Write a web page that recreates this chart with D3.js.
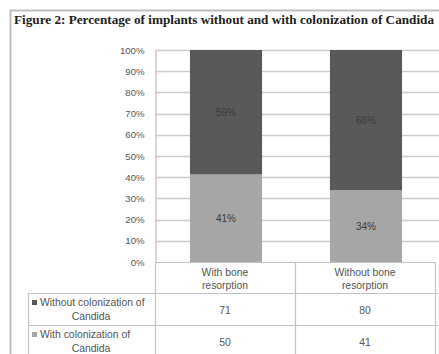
<!DOCTYPE html>
<html><head><meta charset="utf-8">
<script src="https://cdn.jsdelivr.net/npm/d3@7"></script>
<style>
html,body{margin:0;padding:0;background:#fff;overflow:hidden;}
svg{display:block;}
</style></head>
<body>
<svg id="c" width="439" height="354"></svg>
<script>
const title = "Figure 2: Percentage of implants without and with colonization of Candida";
const categories = ["With bone resorption", "Without bone resorption"];
const categoryLines = [["With bone", "resorption"], ["Without bone", "resorption"]];
const seriesNames = ["With colonization of Candida", "Without colonization of Candida"];
const withColonization = [50, 41];
const withoutColonization = [71, 80];
const yTicks = [0, 0.1, 0.2, 0.3, 0.4, 0.5, 0.6, 0.7, 0.8, 0.9, 1.0];

const svg = d3.select("#c");
const font = "'Liberation Sans', Arial, sans-serif";

// outer frame
svg.append("rect").attr("x", 10.5).attr("y", 10.5).attr("width", 460).attr("height", 400)
  .attr("fill", "#fff").attr("stroke", "#bdbdbd").attr("stroke-width", 2);

svg.append("text").attr("x", 14).attr("y", 24)
  .attr("font-family", "'Liberation Serif', 'Times New Roman', serif")
  .attr("font-weight", "bold").attr("font-size", 13.2).attr("fill", "#222")
  .attr("textLength", 420).attr("lengthAdjust", "spacingAndGlyphs")
  .text(title);

const x0 = 155, x1 = 435;
const x = d3.scaleBand().domain(categories).range([x0, x1]).padding(0);
const y = d3.scaleLinear().domain([0, 1]).range([262, 50]);
const barW = x.bandwidth() * 0.515;

// gridlines
svg.append("g").selectAll("line").data(yTicks.filter(d => d > 0)).join("line")
  .attr("x1", x0).attr("x2", x1 + 10)
  .attr("y1", d => Math.round(y(d)) + 0.5).attr("y2", d => Math.round(y(d)) + 0.5)
  .attr("stroke", "#cccccc").attr("stroke-width", 1.5);

// y axis
const yAxis = d3.axisLeft(y).tickValues(yTicks).tickFormat(d3.format(".0%")).tickSize(0).tickPadding(11);
const ga = svg.append("g").attr("transform", `translate(${x0 + 0.5},0)`).call(yAxis);
ga.select(".domain").attr("stroke", "#c8c8c8").attr("stroke-width", 1.5);
ga.selectAll("text").attr("font-family", font).attr("font-size", 9.6).attr("fill", "#555");

// stacked data
const rows = categories.map((c, i) => ({cat: c, w: withColonization[i], wo: withoutColonization[i]}));
const stack = d3.stack().keys(["w", "wo"]).offset(d3.stackOffsetExpand);
const stacked = stack(rows);
const colors = {w: "#a6a6a6", wo: "#595959"};

const layers = svg.append("g").selectAll("g").data(stacked).join("g")
  .attr("fill", d => colors[d.key]);
layers.selectAll("rect").data(d => d).join("rect")
  .attr("x", d => x(d.data.cat) + (x.bandwidth() - barW) / 2 + 1)
  .attr("width", barW)
  .attr("y", d => y(d[1]))
  .attr("height", d => y(d[0]) - y(d[1]));
layers.selectAll("text").data(d => d).join("text")
  .attr("x", d => x(d.data.cat) + x.bandwidth() / 2 + 1)
  .attr("y", d => y((d[0] + d[1]) / 2) + 3.5)
  .attr("text-anchor", "middle").attr("font-family", font).attr("font-size", 10)
  .attr("fill", d => d.key === "wo" ? "#1a1a1a" : "#3a3a3a")
  .text(d => d3.format(".0%")(d[1] - d[0]));

// data table
const tg = svg.append("g").attr("stroke", "#c4c4c4").attr("stroke-width", 1.2);
tg.append("line").attr("x1", x0).attr("x2", x1).attr("y1", 262.5).attr("y2", 262.5);
[293, 325, 357].forEach(yy => tg.append("line").attr("x1", 28).attr("x2", x1 + 10).attr("y1", yy + 0.5).attr("y2", yy + 0.5));
tg.append("line").attr("x1", 28.5).attr("x2", 28.5).attr("y1", 293).attr("y2", 360);
[x0, x0 + x.bandwidth(), x1].forEach(xx => tg.append("line").attr("x1", xx + 0.5).attr("x2", xx + 0.5).attr("y1", 262).attr("y2", 360));

const tt = svg.append("g").attr("font-family", font).attr("font-size", 10.4).attr("fill", "#555").attr("text-anchor", "middle");
categories.forEach((c, i) => {
  const cx = x(c) + x.bandwidth() / 2;
  categoryLines[i].forEach((ln, j) => tt.append("text").attr("x", cx).attr("y", 275.5 + j * 13).text(ln));
  tt.append("text").attr("x", cx).attr("y", 313.5).text(withoutColonization[i]);
  tt.append("text").attr("x", cx).attr("y", 345.5).text(withColonization[i]);
});
// legend labels in table
const legendRows = [
  {key: "wo", lines: ["Without colonization of", "Candida"], y: 293},
  {key: "w", lines: ["With colonization of", "Candida"], y: 325}
];
legendRows.forEach(r => {
  svg.append("rect").attr("x", 32).attr("y", r.y + 7).attr("width", 5).attr("height", 5).attr("fill", colors[r.key]);
  tt.append("text").attr("x", 40).attr("y", r.y + 13).attr("text-anchor", "start").text(r.lines[0]);
  tt.append("text").attr("x", 91).attr("y", r.y + 26.5).text(r.lines[1]);
});
</script>
</body></html>
